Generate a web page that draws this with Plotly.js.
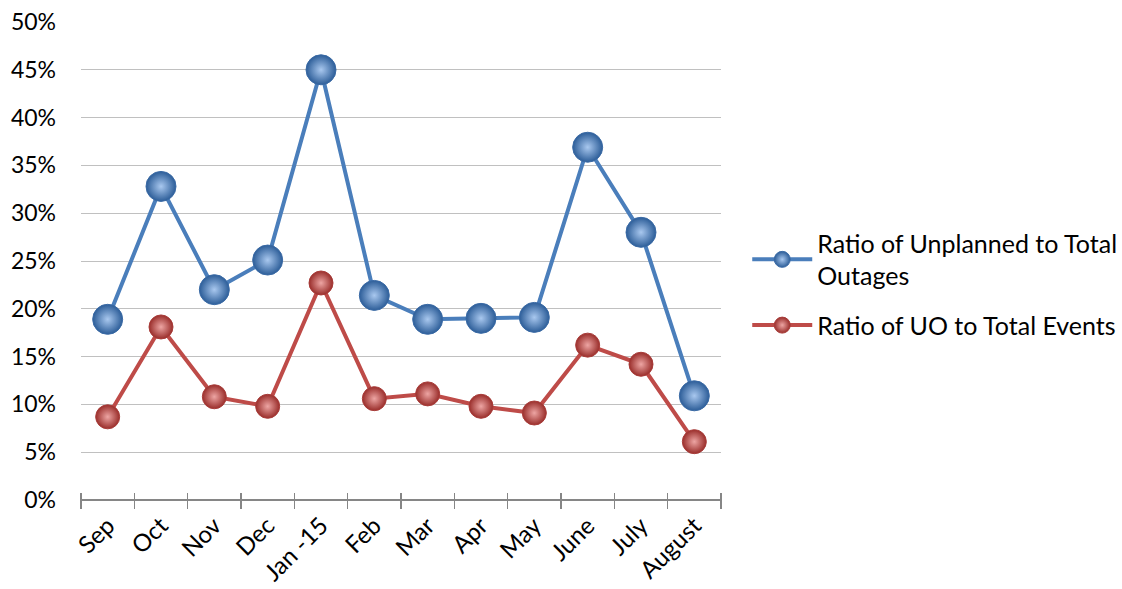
<!DOCTYPE html>
<html>
<head>
<meta charset="utf-8">
<script src="https://cdn.plot.ly/plotly-3.0.1.min.js"></script>
<style>html,body{margin:0;padding:0;background:#fff;}#chart{width:1122px;height:589px;}</style>
</head>
<body>
<div id="chart"></div>
<script>
const months = ["Sep","Oct","Nov","Dec","Jan -15","Feb","Mar","Apr","May","June","July","August"];
const unplannedToTotalOutages = [0.189, 0.328, 0.220, 0.251, 0.450, 0.214, 0.189, 0.190, 0.191, 0.369, 0.280, 0.109];
const uoToTotalEvents = [0.087, 0.181, 0.108, 0.098, 0.227, 0.106, 0.111, 0.098, 0.091, 0.162, 0.142, 0.061];
const seriesNames = ["Ratio of Unplanned to Total<br>Outages", "Ratio of UO to Total Events"];
const yTickVals = [0,0.05,0.10,0.15,0.20,0.25,0.30,0.35,0.40,0.45,0.50];

const FONT = "Lato, 'Open Sans', sans-serif";
const PLOT_H = 589 - 22 - 89;

const traces = [
  {
    x: months, y: unplannedToTotalOutages, name: seriesNames[0], legendgroup: "a", type: "scatter", mode: "lines+markers",
    line: {color: "#4a7ebb", width: 4},
    marker: {size: 30, color: "#2c5d98", line: {color: "#3a6aa5", width: 1}, gradient: {type: "radial", color: "#a9c8ef"}}
  },
  {
    x: months, y: uoToTotalEvents, name: seriesNames[1], legendgroup: "b", type: "scatter", mode: "lines+markers",
    line: {color: "#be4b48", width: 4},
    marker: {size: 24, color: "#9a2e2b", line: {color: "#a83c39", width: 1}, gradient: {type: "radial", color: "#eda5a3"}}
  }
];

const layout = {
  width: 1122, height: 589,
  margin: {l: 81, r: 401, t: 22, b: 89, autoexpand: false},
  paper_bgcolor: "#ffffff", plot_bgcolor: "#ffffff",
  font: {family: FONT, size: 23, color: "#000000"},
  showlegend: true,
  legend: {
    x: 1.041, xanchor: "left", y: 0.585, yanchor: "top",
    font: {family: FONT, size: 25, color: "#000000"},
    traceorder: "grouped", tracegroupgap: 14, itemwidth: 60
  },
  xaxis: {
    type: "category", range: [-0.5, 11.5],
    anchor: "free", position: 8 / PLOT_H,
    showgrid: false, zeroline: false, showline: false,
    ticks: "outside", ticklen: 16, tickcolor: "#868686", tickwidth: 1.5, tickson: "boundaries",
    tickangle: -45, ticklabelstandoff: 14, tickfont: {family: FONT, size: 24}
  },
  yaxis: {
    range: [0, 0.5], tickvals: yTickVals, tickformat: ".0%",
    showgrid: true, gridcolor: "#c0c0c0", gridwidth: 1,
    zeroline: true, zerolinecolor: "#868686", zerolinewidth: 1.5,
    showline: false, ticks: "",
    ticklabelstandoff: 24, tickfont: {family: FONT, size: 23}
  }
};

Plotly.newPlot("chart", traces, layout, {displayModeBar: false, staticPlot: true});
</script>
</body>
</html>
